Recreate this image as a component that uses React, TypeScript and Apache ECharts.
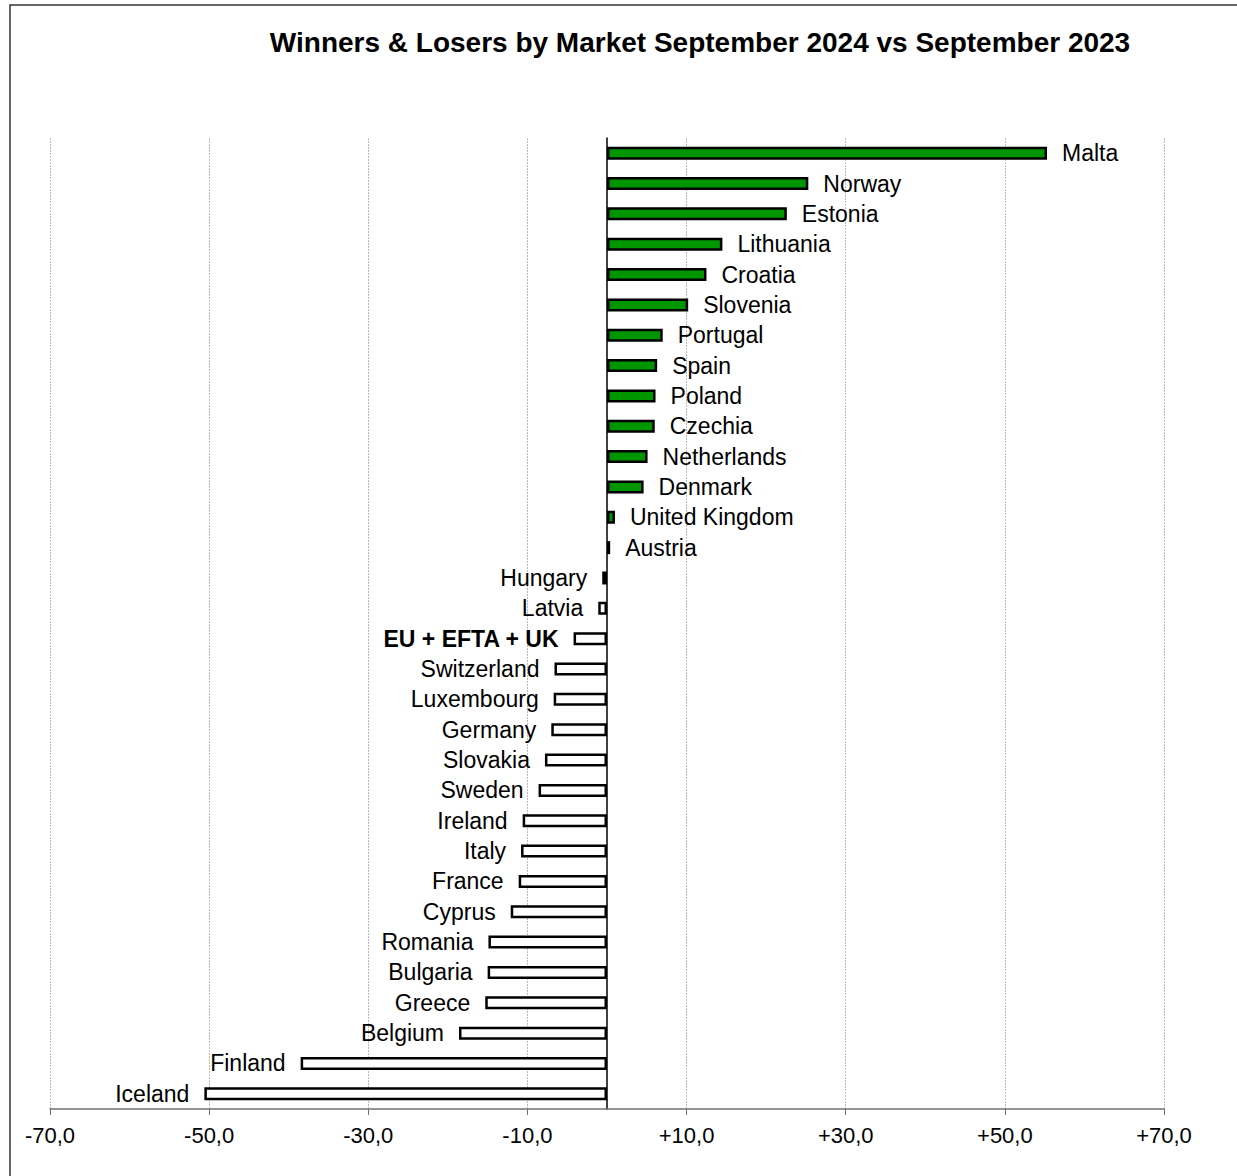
import React, { useEffect, useRef } from "react";
import * as echarts from "echarts";

const TITLE = "Winners & Losers by Market September 2024 vs September 2023";

const markets = [
  "Malta", "Norway", "Estonia", "Lithuania", "Croatia", "Slovenia", "Portugal", "Spain",
  "Poland", "Czechia", "Netherlands", "Denmark", "United Kingdom", "Austria", "Hungary",
  "Latvia", "EU + EFTA + UK", "Switzerland", "Luxembourg", "Germany", "Slovakia", "Sweden",
  "Ireland", "Italy", "France", "Cyprus", "Romania", "Bulgaria", "Greece", "Belgium",
  "Finland", "Iceland",
];

const changes = [
  55.3, 25.3, 22.6, 14.5, 12.5, 10.2, 7.0, 6.3,
  6.1, 6.0, 5.1, 4.6, 1.0, 0.4, -0.6,
  -1.1, -4.2, -6.6, -6.7, -7.0, -7.8, -8.6,
  -10.6, -10.8, -11.1, -12.1, -14.9, -15.0, -15.3, -18.6,
  -38.5, -50.6,
];

const totalLabel = "EU + EFTA + UK";
const axisMin = -70;
const axisMax = 70;
const axisStep = 20;

const FONT = 'Arial, "Liberation Sans", sans-serif';

export default function App() {
  const ref = useRef<HTMLDivElement>(null);
  useEffect(() => {
    if (!ref.current) return;
    const chart = echarts.init(ref.current, null, { renderer: "svg" });
    const data = changes.map((v, i) => {
      const name = markets[i];
      const pos = v >= 0;
      return {
        value: v,
        name,
        itemStyle: {
          color: pos ? "#009600" : "#ffffff",
          borderColor: "#000000",
          borderWidth: 2.5,
        },
        label: {
          show: true,
          position: pos ? "right" : "left",
          distance: 15,
          formatter: "{b}",
          color: "#000000",
          fontSize: 23,
          fontFamily: FONT,
          fontWeight: name === totalLabel ? "bold" : "normal",
        },
      };
    });
    chart.setOption({
      animation: false,
      backgroundColor: "#ffffff",
      grid: { left: 50, right: 73, top: 138, bottom: 67, containLabel: false },
      graphic: [
        {
          type: "rect",
          shape: { x: 10, y: 5, width: 1400, height: 1400 },
          style: { fill: "none", stroke: "#333333", lineWidth: 1.5 },
          silent: true,
        },
        {
          type: "text",
          x: 700,
          y: 42,
          style: {
            text: TITLE,
            font: `bold 28px ${FONT}`,
            fill: "#000000",
            textAlign: "center",
            textVerticalAlign: "middle",
          },
        },
      ],
      xAxis: {
        type: "value",
        min: axisMin,
        max: axisMax,
        interval: axisStep,
        axisLine: { show: true, onZero: false, lineStyle: { color: "#707070", width: 1.5 } },
        axisTick: { show: true, length: 6, lineStyle: { color: "#707070" } },
        axisLabel: {
          fontSize: 22,
          fontFamily: FONT,
          color: "#000000",
          margin: 15,
          formatter: (v: number) => (v > 0 ? "+" : "") + v.toFixed(1).replace(".", ","),
        },
        splitLine: { show: true, lineStyle: { color: "#b8b8b8", type: [2, 1], width: 1 } },
      },
      yAxis: {
        type: "category",
        data: markets,
        inverse: true,
        axisLine: { show: true, onZero: true, lineStyle: { color: "#000000", width: 1.5 } },
        axisTick: { show: false },
        axisLabel: { show: false },
        splitLine: { show: false },
      },
      series: [
        {
          type: "bar",
          data,
          barWidth: 13,
        },
      ],
    });
    return () => chart.dispose();
  }, []);
  return (
    <div
      ref={ref}
      style={{ position: "absolute", left: 0, top: 0, width: 1237, height: 1176 }}
    />
  );
}
